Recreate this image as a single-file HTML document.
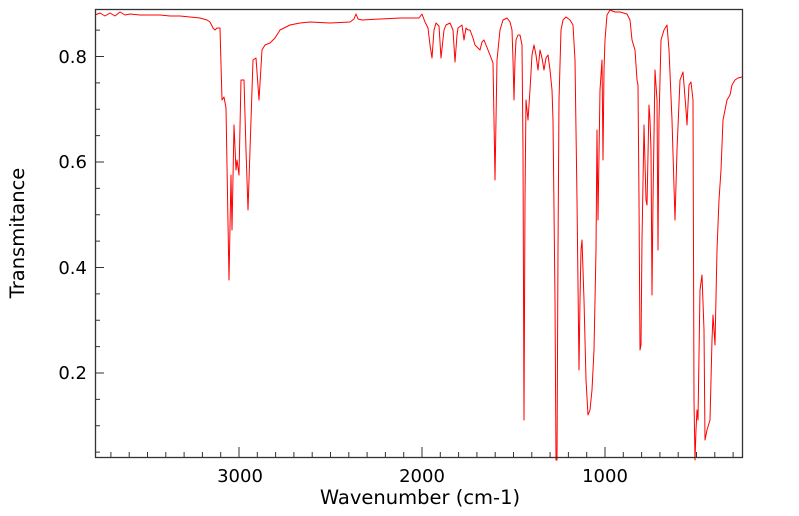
<!DOCTYPE html>
<html><head><meta charset="utf-8"><style>
html,body{margin:0;padding:0;background:#fff}
svg{display:block;font-family:"DejaVu Sans","Liberation Sans",sans-serif}
</style></head><body>
<svg width="799" height="516" viewBox="0 0 799 516" xmlns="http://www.w3.org/2000/svg">
<rect x="0" y="0" width="799" height="516" fill="#fff"/>
<polyline fill="none" stroke="#ff0000" stroke-width="1" stroke-linejoin="round" points="
95,15 100,13 105,16 110,13 115,16 120,12 125,15 130,14 140,15 150,15 160,15 170,16 180,16 190,17 200,18 207,20 210,22 213,28 215,30 217,28 220,28 222,100 224,97 226,108 229,280 231,175 232,230 234,125 236,170 237,160 239,175 241,80 244,80 246,150 248,210 250,150 253,60 256,58 259,100 262,50 265,45 270,43 275,38 280,30 290,25 300,23 310,22 330,23 350,22 354,19 356,14 358,19 362,20 380,19 400,18 419,18 422,14 425,22 428,28 430,45 432,58 434,30 436,23 439,26 441,58 444,30 446,25 450,23 453,30 455,62 457,35 458,28 462,25 464,40 466,28 468,30 470,30 473,38 475,45 478,48 480,50 482,42 484,40 486,45 488,50 490,55 493,63 494,120 495,180 496,120 497,60 500,30 503,20 507,18 510,22 512,30 513,60 514,100 515,60 516,40 518,35 520,35 522,45 523,150 524,420 525,200 526,100 527,110 528,120 530,90 532,55 534,45 536,55 538,70 540,50 542,58 544,70 546,58 548,55 550,70 552,90 553,120 555,300 556,460 557,460 558,250 559,100 561,30 563,20 566,17 570,20 573,25 575,60 577,200 579,370 580,300 581,250 582,240 584,300 586,380 588,415 590,410 592,390 594,350 596,250 597,130 598,220 600,90 602,60 603,160 604,70 605,40 607,15 610,10 615,12 620,12 627,14 630,20 632,40 635,50 637,80 638,85 639,200 640,350 641,345 642,240 644,125 646,200 647,205 649,105 650,120 651,150 652,295 653,200 655,70 657,100 658,250 659,120 661,40 664,30 667,25 669,50 672,120 675,220 677,150 680,80 683,72 686,110 687,125 689,85 691,82 693,100 694,400 695,460 696,430 697,410 698,420 700,290 702,275 704,330 705,440 707,430 710,420 712,340 713,315 715,345 717,250 719,200 721,170 723,120 727,100 730,95 732,85 735,80 738,78 742,77"/>
<path stroke="#333" stroke-width="1" fill="none" d="
M110.9 457v-5M129.2 457v-5M147.5 457v-5M165.8 457v-5M184.1 457v-5M202.4 457v-5M220.7 457v-5M239 457v-10M257.3 457v-5M275.6 457v-5M293.9 457v-5M312.2 457v-5M330.5 457v-5M348.8 457v-5M367.1 457v-5M385.4 457v-5M403.7 457v-5M422 457v-10M440.3 457v-5M458.6 457v-5M476.9 457v-5M495.2 457v-5M513.5 457v-5M531.8 457v-5M550.1 457v-5M568.4 457v-5M586.7 457v-5M605 457v-10M623.3 457v-5M641.6 457v-5M659.9 457v-5M678.2 457v-5M696.5 457v-5M714.8 457v-5M733.1 457v-5
M95 452.1h5M95 425.75h5M95 399.4h5M95 373h9M95 346.6h5M95 320.25h5M95 293.9h5M95 267.5h9M95 241.1h5M95 214.75h5M95 188.4h5M95 162h9M95 135.6h5M95 109.25h5M95 82.9h5M95 56.5h9M95 30.1h5"/>
<rect x="95.5" y="9.5" width="647" height="448" fill="none" stroke="#333" stroke-width="1.3"/>
<g font-size="18" fill="#000" text-anchor="end">
<text x="87" y="63">0.8</text>
<text x="87" y="168">0.6</text>
<text x="87" y="274">0.4</text>
<text x="87" y="379">0.2</text>
</g>
<g font-size="18" fill="#000" text-anchor="middle">
<text x="240" y="482">3000</text>
<text x="422" y="482">2000</text>
<text x="605" y="482">1000</text>
</g>
<g font-size="19.5" fill="#000" text-anchor="middle">
<text x="420" y="504">Wavenumber (cm-1)</text>
<text transform="translate(24,233) rotate(-90)">Transmitance</text>
</g>
</svg>
</body></html>
